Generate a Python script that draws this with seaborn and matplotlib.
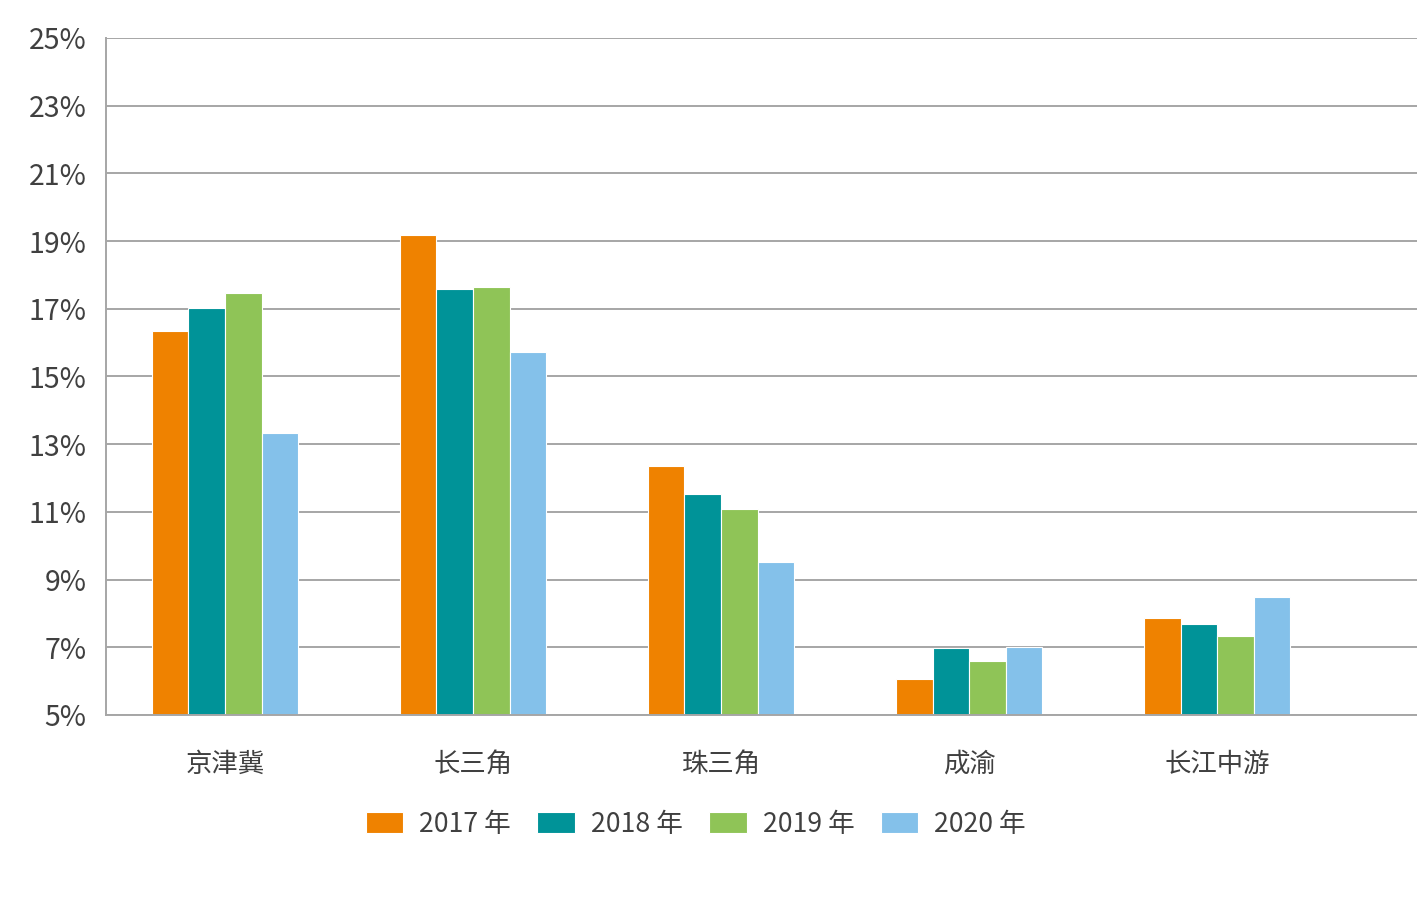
import pandas as pd
import matplotlib
matplotlib.use("Agg")
import matplotlib.pyplot as plt
import seaborn as sns

regions = ["京津冀", "长三角", "珠三角", "成渝", "长江中游"]
years = ["2017 年", "2018 年", "2019 年", "2020 年"]
v2017 = [16.34, 19.18, 12.36, 6.06, 7.87]
v2018 = [17.02, 17.58, 11.53, 6.98, 7.69]
v2019 = [17.47, 17.64, 11.09, 6.60, 7.33]
v2020 = [13.33, 15.72, 9.52, 7.00, 8.49]
colors = ["#EF8200", "#009398", "#8FC457", "#84C1EA"]
yticks = list(range(5, 26, 2))

rows = []
for yr, vals in zip(years, [v2017, v2018, v2019, v2020]):
    for r, v in zip(regions, vals):
        rows.append({"region": r, "year": yr, "value": v})
df = pd.DataFrame(rows)

sns.set_style("white")
plt.rcParams["font.family"] = ["Noto Sans CJK SC", "DejaVu Sans"]
text_color = "#404040"
grid_color = "#A6A6A6"

fig = plt.figure(figsize=(14.17, 9.21), dpi=100)
ax = fig.add_axes([106 / 1417, 1 - 715 / 921, 1 - 106 / 1417, (715 - 38) / 921])

sns.barplot(data=df, x="region", y="value", hue="year", palette=colors,
            saturation=1, width=0.59, edgecolor="white", linewidth=0.8, ax=ax,
            legend=True, errorbar=None)

ax.set_ylim(5, 25)
ax.set_xlim(-0.48, 4.806)
ax.set_yticks(yticks)
ax.set_yticklabels([f"{t}%" for t in yticks])
ax.yaxis.grid(True, color=grid_color, linewidth=1.4)
ax.set_axisbelow(True)
ax.set_xlabel("")
ax.set_ylabel("")

for side in ["top", "right"]:
    ax.spines[side].set_visible(False)
for side in ["left", "bottom"]:
    ax.spines[side].set_color(grid_color)
    ax.spines[side].set_linewidth(1.4)

ax.tick_params(axis="y", length=0, pad=14, labelsize=20.5, labelcolor=text_color)
ax.tick_params(axis="x", length=0, pad=26, labelsize=19, labelcolor=text_color)

ax.legend(loc="center", bbox_to_anchor=(0.491, 0.105), bbox_transform=fig.transFigure,
          ncol=4, frameon=False, fontsize=19.2, handlelength=1.4, handleheight=0.85,
          handletextpad=0.6, columnspacing=1.0, labelcolor=text_color)

fig.savefig("out.png", dpi=100)
